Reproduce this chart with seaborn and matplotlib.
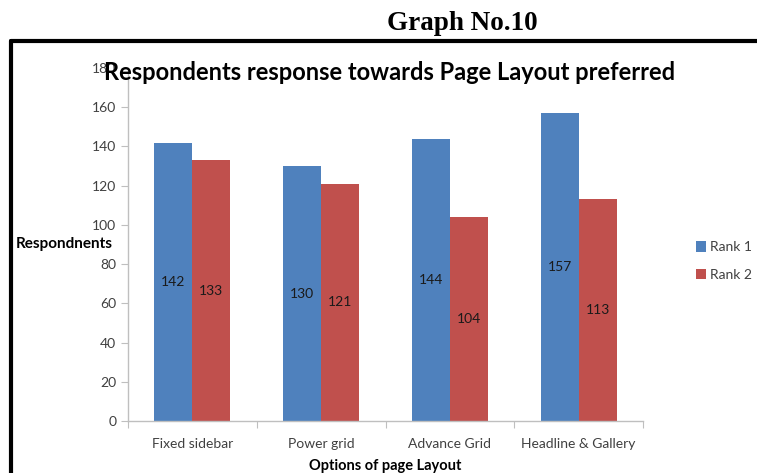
import pandas as pd
import seaborn as sns
import matplotlib.pyplot as plt
from matplotlib.lines import Line2D

# Данные
options = ['Fixed sidebar', 'Power grid', 'Advance Grid', 'Headline & Gallery']
rank1 = [142, 130, 144, 157]
rank2 = [133, 121, 104, 113]
ranks = ['Rank 1', 'Rank 2']

df = pd.DataFrame({
    'Option': options * 2,
    'Rank': [ranks[0]] * 4 + [ranks[1]] * 4,
    'Respondents': rank1 + rank2,
})

sns.set_style('white')
plt.rcParams['font.family'] = ['Lato', 'DejaVu Sans']

fig = plt.figure(figsize=(7.57, 4.73), dpi=100)
ax = fig.add_axes([128 / 757, 1 - 421 / 473, (643 - 128) / 757, (421 - 68) / 473])

sns.barplot(data=df, x='Option', y='Respondents', hue='Rank',
            palette=['#4F81BD', '#C0504D'], width=0.59, saturation=1,
            linewidth=0, ax=ax, legend=True)

for cont in ax.containers:
    ax.bar_label(cont, label_type='center', fontsize=10, color='#1a1a1a')

ax.set_ylim(0, 180)
ax.set_yticks(range(0, 181, 20))
ax.set_xlim(-0.5, 3.5)
ax.set_xticks([-0.5, 0.5, 1.5, 2.5, 3.5])
ax.set_xticklabels([])
ax.set_xticks(range(4), minor=True)
ax.set_xticklabels(options, minor=True, fontsize=10, color='#404040')
ax.tick_params(axis='x', which='minor', length=0, pad=12)
ax.tick_params(axis='x', which='major', length=5, color='#bfbfbf', direction='out', bottom=True)
ax.tick_params(axis='y', length=5, color='#bfbfbf', direction='out', left=True,
               labelsize=10, labelcolor='#404040')

for s in ['top', 'right']:
    ax.spines[s].set_visible(False)
for s in ['left', 'bottom']:
    ax.spines[s].set_color('#bfbfbf')
    ax.spines[s].set_linewidth(1)

ax.set_xlabel('')
ax.set_ylabel('')
fig.text(113 / 757, 1 - 244 / 473, 'Respondnents', ha='right', va='center',
         fontsize=11, fontweight='bold', color='#000000')
fig.text(385 / 757, 1 - 466 / 473, 'Options of page Layout', ha='center', va='center',
         fontsize=10.5, fontweight='bold', color='#000000')
fig.text(390 / 757, 1 - 72 / 473, 'Respondents response towards Page Layout preferred',
         ha='center', va='center', fontsize=17, fontweight='bold', color='#000000')
fig.text(462 / 757, 1 - 24 / 473, 'Graph No.10', ha='center', va='center',
         fontsize=19.5, fontweight='bold', family='Liberation Serif', color='#000000')

leg = ax.legend(loc='center left', bbox_to_anchor=(696 / 757, 1 - 261 / 473),
                bbox_transform=fig.transFigure, frameon=False, fontsize=10,
                handlelength=0.75, handleheight=0.75, handletextpad=0.25,
                labelspacing=1.1, borderpad=0, borderaxespad=0)
for t in leg.get_texts():
    t.set_color('#404040')

# рамка вокруг диаграммы
fig.add_artist(Line2D([11 / 757, 1.0], [1 - 41 / 473] * 2, color='black', lw=3,
                      transform=fig.transFigure))
fig.add_artist(Line2D([11 / 757] * 2, [0.0, 1 - 41 / 473], color='black', lw=3,
                      transform=fig.transFigure))

fig.savefig('out.png', dpi=100)
